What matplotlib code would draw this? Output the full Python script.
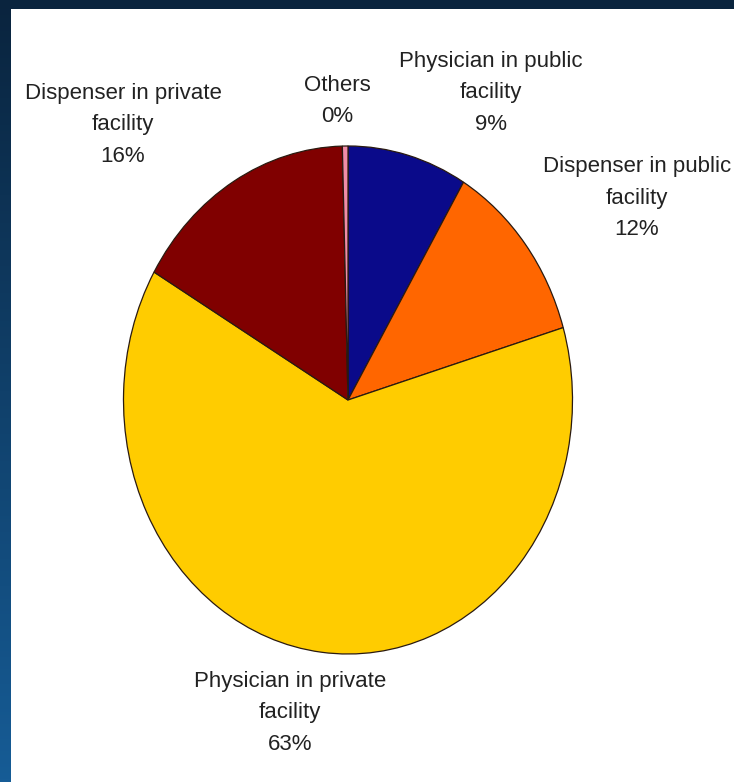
import numpy as np
import matplotlib.pyplot as plt
from matplotlib.patches import Rectangle

# slice data, clockwise from 12 o'clock
categories = ["Physician in public\nfacility", "Dispenser in public\nfacility",
              "Physician in private\nfacility", "Dispenser in private\nfacility",
              "Others"]
shares = [8.6, 11.8, 63.0, 16.2, 0.4]
colors = ["#0a0a8a", "#ff6600", "#ffcc00", "#800000", "#f08ca8"]

# where each label sits (pie radius = 1)
label_pos = [(0.637, 1.209), (1.287, 0.795), (-0.258, -1.232),
             (-1.002, 1.083), (-0.049, 1.177)]

W, H = 734, 782
fig = plt.figure(figsize=(W / 100, H / 100), dpi=100)

# dark blue gradient backdrop
bg = fig.add_axes([0, 0, 1, 1])
grad = np.linspace(0, 1, 256).reshape(-1, 1)
top = np.array([0x0a, 0x24, 0x3e]) / 255
bot = np.array([0x16, 0x5c, 0x96]) / 255
img = top + (bot - top) * grad[:, :, None]
bg.imshow(img, aspect="auto", extent=[0, 1, 0, 1], origin="upper")
bg.add_patch(Rectangle((11 / W, 0), 1, (H - 9) / H, facecolor="white",
                       edgecolor="none"))
bg.set_xlim(0, 1)
bg.set_ylim(0, 1)
bg.axis("off")

ax = fig.add_axes([11.25 / W, 1 / H, 673.5 / W, 762 / H])
labels = [f"{c}\n{round(s)}%" for c, s in zip(categories, shares)]
wedges, texts = ax.pie(shares, labels=labels, colors=colors, startangle=90,
                       counterclock=False,
                       wedgeprops=dict(edgecolor="#2a1a10", linewidth=0.9))
for t, (x, y) in zip(texts, label_pos):
    t.set_position((x, y))
    t.set_ha("center")
    t.set_va("center")
    t.set_multialignment("center")
    t.set_fontsize(16)
    t.set_family("Liberation Sans")
    t.set_color("#222222")
    t.set_linespacing(1.68)
ax.set_aspect("auto")
ax.set_xlim(-1.5, 1.5)
ax.set_ylim(-1.5, 1.5)

fig.savefig("out.png", dpi=100)
